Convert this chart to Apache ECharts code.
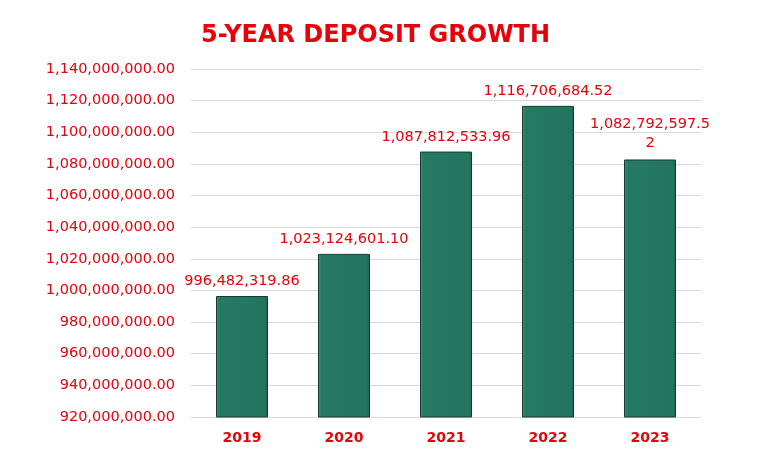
<!DOCTYPE html>
<html>
<head>
<meta charset="utf-8">
<script src="https://cdn.jsdelivr.net/npm/echarts@6/dist/echarts.min.js"></script>
<style>html,body{margin:0;padding:0;background:#fff}#c{width:769px;height:473px}</style>
</head>
<body>
<div id="c"></div>
<script>
const categories = ['2019', '2020', '2021', '2022', '2023'];
const deposits = [996482319.86, 1023124601.10, 1087812533.96, 1116706684.52, 1082792597.52];
const yMin = 920000000;
const yMax = 1140000000;
const yStep = 20000000;

function fmt(v) {
  return v.toLocaleString('en-US', {minimumFractionDigits: 2, maximumFractionDigits: 2});
}
const RED = '#e8000b';
const FONT = 'DejaVu Sans';

const chart = echarts.init(document.getElementById('c'));
chart.setOption({
  animation: false,
  title: {
    text: '5-YEAR DEPOSIT GROWTH',
    left: 196, top: 19,
    textStyle: {color: RED, fontSize: 24, fontWeight: 'bold', fontFamily: FONT}
  },
  grid: {left: 191, right: 68, top: 69, bottom: 56, containLabel: false},
  xAxis: {
    type: 'category', data: categories,
    axisLine: {lineStyle: {color: '#d9d9d9'}},
    axisTick: {show: false},
    axisLabel: {color: RED, fontSize: 14, fontWeight: 'bold', fontFamily: FONT, margin: 14}
  },
  yAxis: {
    type: 'value', min: yMin, max: yMax, interval: yStep,
    axisLine: {show: false}, axisTick: {show: false},
    splitLine: {lineStyle: {color: '#d9d9d9'}},
    axisLabel: {color: RED, fontSize: 14.5, fontFamily: FONT, margin: 16, formatter: v => fmt(v)}
  },
  series: [{
    type: 'bar',
    barWidth: '51%',
    data: deposits.map((v, i) => i === deposits.length - 1 ? {
      value: v,
      label: {width: 124, overflow: 'breakAll', lineHeight: 19}
    } : v),
    itemStyle: {
      color: {type: 'linear', x: 0, y: 0, x2: 1, y2: 0, colorStops: [
        {offset: 0, color: '#3f9a80'}, {offset: 0.06, color: '#267a63'},
        {offset: 0.94, color: '#237560'}, {offset: 1, color: '#1b5e4c'}]},
      borderColor: '#173a30', borderWidth: 1
    },
    label: {
      show: true, position: 'top', distance: 7,
      color: RED, fontSize: 14.5, fontFamily: FONT,
      formatter: p => fmt(p.value)
    }
  }]
});
</script>
</body>
</html>
